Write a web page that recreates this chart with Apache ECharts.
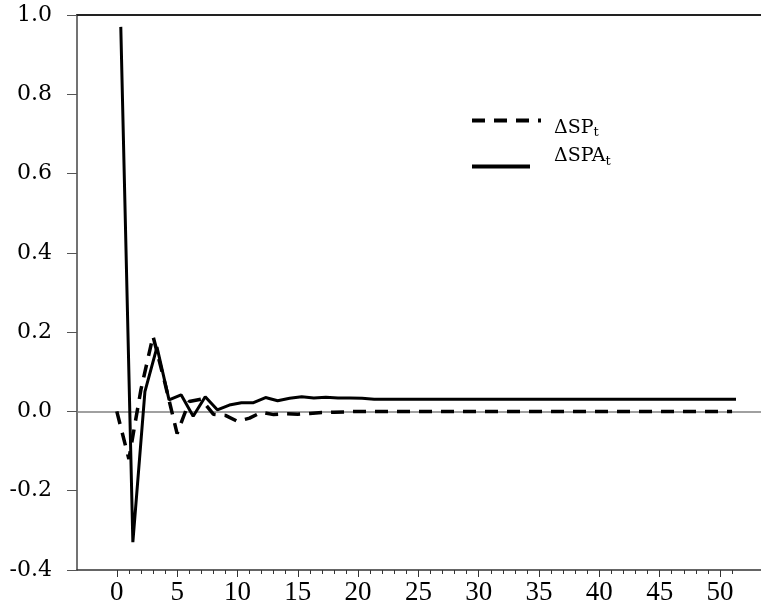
<!DOCTYPE html>
<html>
<head>
<meta charset="utf-8">
<script src="https://cdn.jsdelivr.net/npm/echarts@6/dist/echarts.min.js"></script>
<style>
html, body { margin: 0; padding: 0; background: #fff; }
#main { width: 761px; height: 606px; }
</style>
</head>
<body>
<div id="main"></div>
<script>
// periods of the impulse response
var periods = [0, 1, 2, 3, 4, 5, 6, 7, 8, 9, 10, 11, 12, 13, 14, 15, 16, 17, 18, 19, 20,
  21, 22, 23, 24, 25, 26, 27, 28, 29, 30, 31, 32, 33, 34, 35, 36, 37, 38, 39, 40,
  41, 42, 43, 44, 45, 46, 47, 48, 49, 50, 51];

// ΔSP (dashed)
var dSP = [0, -0.12, 0.055, 0.19, 0.07, -0.056, 0.025, 0.031, -0.007, -0.01, -0.025,
  -0.017, -0.002, -0.008, -0.006, -0.007, -0.005, -0.003, -0.002, -0.001, 0,
  0, 0, 0, 0, 0, 0, 0, 0, 0, 0, 0, 0, 0, 0, 0, 0, 0, 0, 0, 0,
  0, 0, 0, 0, 0, 0, 0, 0, 0, 0, 0];

// ΔSPA (solid), plotted a little to the right of each period in the original
var dSPA = [0.97, -0.33, 0.05, 0.162, 0.029, 0.042, -0.012, 0.037, 0.004, 0.016, 0.022,
  0.022, 0.035, 0.027, 0.033, 0.037, 0.034, 0.036, 0.034, 0.034, 0.033,
  0.031, 0.031, 0.031, 0.031, 0.031, 0.031, 0.031, 0.031, 0.031, 0.031,
  0.031, 0.031, 0.031, 0.031, 0.031, 0.031, 0.031, 0.031, 0.031, 0.031,
  0.031, 0.031, 0.031, 0.031, 0.031, 0.031, 0.031, 0.031, 0.031, 0.031, 0.031];
var spaShift = 0.33;

var xTickLabels = [0, 5, 10, 15, 20, 25, 30, 35, 40, 45, 50];

var serif = "'Liberation Serif', 'Times New Roman', serif";
var wideSerif = "'DejaVu Serif', serif";
var xMin = -3.3, xMax = 53.4;

var myChart = echarts.init(document.getElementById('main'));

var legendRich = {
  m: { fontFamily: wideSerif, fontSize: 19, color: '#000' },
  s: { fontFamily: wideSerif, fontSize: 13, color: '#000', padding: [10, 0, 0, 0] }
};

var option = {
  animation: false,
  color: ['#000', '#000'],
  grid: { left: 77, right: 0, top: 15, bottom: 33 },
  legend: [
    {
      data: ['ΔSP'],
      left: 470, top: 115, padding: 0,
      itemWidth: 69, itemHeight: 14,
      itemStyle: { opacity: 0 },
      lineStyle: { width: 4 },
      formatter: function () { return '{m|ΔSP}{s|t}'; },
      textStyle: { padding: [14, 0, 0, 8], rich: legendRich }
    },
    {
      data: ['ΔSPA'],
      left: 470, top: 147, padding: 0,
      itemWidth: 58, itemHeight: 14,
      itemStyle: { opacity: 0 },
      lineStyle: { width: 4 },
      formatter: function () { return '{m|ΔSPA}{s|t}'; },
      textStyle: { padding: [0, 0, 20, 19], rich: legendRich }
    }
  ],
  xAxis: [
    {
      type: 'value', position: 'bottom', min: xMin, max: xMax,
      axisLine: { show: true, onZero: false, lineStyle: { color: '#333', width: 1.5 } },
      axisTick: { show: true, customValues: xTickLabels, length: 7, lineStyle: { color: '#333' } },
      axisLabel: { customValues: xTickLabels, fontFamily: serif, fontSize: 27, color: '#000', margin: 9 },
      splitLine: { show: false }
    },
    {
      type: 'value', position: 'bottom', min: xMin, max: xMax,
      axisLine: { show: false, onZero: false },
      axisTick: { show: true, customValues: periods, length: 4, lineStyle: { color: '#333' } },
      axisLabel: { show: false },
      splitLine: { show: false }
    },
    {
      type: 'value', position: 'top', min: xMin, max: xMax,
      axisLine: { show: true, onZero: false, lineStyle: { color: '#222', width: 2 } },
      axisTick: { show: false },
      axisLabel: { show: false },
      splitLine: { show: false }
    }
  ],
  yAxis: {
    type: 'value', min: -0.4, max: 1.0, interval: 0.2,
    axisLine: { show: true, onZero: false, lineStyle: { color: '#444', width: 1.5 } },
    axisTick: { show: true, length: 10, lineStyle: { color: '#555' } },
    axisLabel: {
      fontFamily: wideSerif, fontSize: 22, color: '#000', margin: 25,
      formatter: function (v) { return v.toFixed(1); }
    },
    splitLine: { show: false }
  },
  series: [
    {
      name: 'ΔSP', type: 'line', xAxisIndex: 0, symbol: 'none', z: 3,
      data: periods.map(function (p, i) { return [p, dSP[i]]; }),
      itemStyle: { color: '#000' },
      lineStyle: { color: '#000', width: 3.5, type: [13, 9] },
      markLine: {
        silent: true, symbol: 'none', label: { show: false },
        lineStyle: { color: '#808080', type: 'solid', width: 1.5 },
        data: [{ yAxis: 0 }],
        z: 1
      }
    },
    {
      name: 'ΔSPA', type: 'line', xAxisIndex: 0, symbol: 'none', z: 4,
      data: periods.map(function (p, i) { return [p + spaShift, dSPA[i]]; }),
      itemStyle: { color: '#000' },
      lineStyle: { color: '#000', width: 3 }
    }
  ]
};

myChart.setOption(option);
</script>
</body>
</html>
